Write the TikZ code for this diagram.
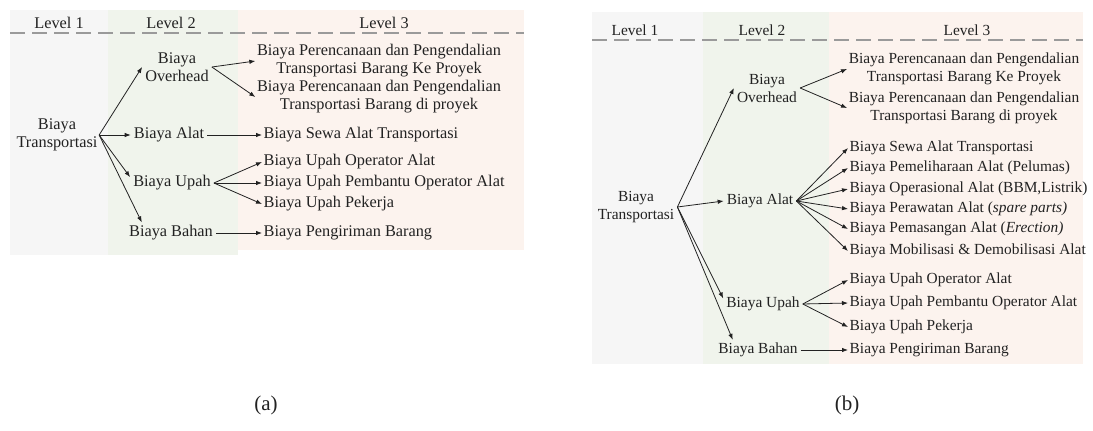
\documentclass[tikz,border=0pt]{standalone}
\usepackage{fontspec}
\setmainfont{Liberation Serif}
\usetikzlibrary{arrows.meta}
\definecolor{lvone}{HTML}{F6F6F6}
\definecolor{lvtwo}{HTML}{F0F4EC}
\definecolor{lvthree}{HTML}{FCF3EE}
\definecolor{ink}{HTML}{222222}
\definecolor{dashgray}{HTML}{9A9A9A}
\begin{document}
\begin{tikzpicture}[x=1pt,y=-1pt,
  txa/.style={font=\fontsize{16.3}{18}\selectfont, text=ink, inner sep=1.5pt},
  txb/.style={font=\fontsize{15.4}{18}\selectfont, text=ink, inner sep=1.5pt},
  midnode/.style={inner sep=3pt},
  arr/.style={draw=ink, line width=0.8pt, -{Latex[length=6pt,width=4.5pt]}},
  hdr/.style={dashgray, line width=2pt, dash pattern=on 15pt off 7pt}]
\useasboundingbox (0,0) rectangle (1093,431);
\fill[white] (0,0) rectangle (1093,431);

% ---------------- panel (a) ----------------
\fill[lvone] (10,10) rectangle (108,255);
\fill[lvtwo] (108,10) rectangle (238,255);
\fill[lvthree] (238,10) rectangle (524,250);
\node[txa] (ah1) at (59,23) {Level 1};
\node[txa] (ah2) at (171,23) {Level 2};
\node[txa] (ah3) at (384,23) {Level 3};
\draw[hdr] (10,33) -- (524,33);

\node[txa, align=center] (aT) at (57,135) {Biaya\\Transportasi};
\node[txa, align=center, midnode] (aO) at (177,67) {Biaya\\Overhead};
\node[txa, midnode] (aA) at (169,135) {Biaya Alat};
\node[txa, midnode] (aU) at (172,183) {Biaya Upah};
\node[txa, midnode] (aB) at (171,233) {Biaya Bahan};

\node[txa, align=center] (aP1) at (379,61) {Biaya Perencanaan dan Pengendalian\\Transportasi Barang Ke Proyek};
\node[txa, align=center] (aP2) at (379,97) {Biaya Perencanaan dan Pengendalian\\Transportasi Barang di proyek};
\node[txa, anchor=west] (aS) at (262,135) {Biaya Sewa Alat Transportasi};
\node[txa, anchor=west] (aU1) at (262,162) {Biaya Upah Operator Alat};
\node[txa, anchor=west] (aU2) at (262,183) {Biaya Upah Pembantu Operator Alat};
\node[txa, anchor=west] (aU3) at (262,204) {Biaya Upah Pekerja};
\node[txa, anchor=west] (aK) at (262,233) {Biaya Pengiriman Barang};

\draw[arr] (aT.east) -- (aO.west);
\draw[arr] (aT.east) -- (aA.west);
\draw[arr] (aT.east) -- (aU.172);
\draw[arr] (aT.east) -- (aB.160);
\draw[arr] (aO.east) -- (aP1.west);
\draw[arr] (aO.east) -- (aP2.west);
\draw[arr] (aA.east) -- (aS.west);
\draw[arr] (aU.east) -- (aU1.west);
\draw[arr] (aU.east) -- (aU2.west);
\draw[arr] (aU.east) -- (aU3.west);
\draw[arr] (aB.east) -- (aK.west);

% ---------------- panel (b) ----------------
\fill[lvone] (592,12) rectangle (703,364);
\fill[lvtwo] (703,12) rectangle (829,364);
\fill[lvthree] (829,12) rectangle (1083,364);
\node[txb] (bh1) at (635,30) {Level 1};
\node[txb] (bh2) at (762,30) {Level 2};
\node[txb] (bh3) at (967,30) {Level 3};
\draw[hdr] (592,40) -- (1083,40);

\node[txb, align=center, midnode] (bT) at (636,207) {Biaya\\Transportasi};
\node[txb, align=center, midnode] (bO) at (767,88) {Biaya\\Overhead};
\node[txb, midnode] (bA) at (760,201) {Biaya Alat};
\node[txb, midnode] (bU) at (763,304) {Biaya Upah};
\node[txb, midnode] (bB) at (758,350) {Biaya Bahan};

\node[txb, align=center] (bP1) at (964,69) {Biaya Perencanaan dan Pengendalian\\Transportasi Barang Ke Proyek};
\node[txb, align=center] (bP2) at (964,108) {Biaya Perencanaan dan Pengendalian\\Transportasi Barang di proyek};
\node[txb, anchor=west] (bA1) at (848,148) {Biaya Sewa Alat Transportasi};
\node[txb, anchor=west] (bA2) at (848,168) {Biaya Pemeliharaan Alat (Pelumas)};
\node[txb, anchor=west] (bA3) at (848,189) {Biaya Operasional Alat (BBM,Listrik)};
\node[txb, anchor=west] (bA4) at (848,209) {Biaya Perawatan Alat (\textit{spare parts)}};
\node[txb, anchor=west] (bA5) at (848,229) {Biaya Pemasangan Alat (\textit{Erection)}};
\node[txb, anchor=west] (bA6) at (848,251) {Biaya Mobilisasi \& Demobilisasi Alat};
\node[txb, anchor=west] (bU1) at (848,280) {Biaya Upah Operator Alat};
\node[txb, anchor=west] (bU2) at (848,303) {Biaya Upah Pembantu Operator Alat};
\node[txb, anchor=west] (bU3) at (848,327) {Biaya Upah Pekerja};
\node[txb, anchor=west] (bK) at (848,350) {Biaya Pengiriman Barang};

\draw[arr] (bT.east) -- (bO.west);
\draw[arr] (bT.east) -- (bA.west);
\draw[arr] (bT.east) -- (bU.172);
\draw[arr] (bT.east) -- (bB.158);
\draw[arr] (bO.east) -- (bP1.west);
\draw[arr] (bO.east) -- (bP2.west);
\foreach \n in {bA1,bA2,bA3,bA4,bA5,bA6}{\draw[arr] (bA.east) -- (\n.west);}
\foreach \n in {bU1,bU2,bU3}{\draw[arr] (bU.east) -- (\n.west);}
\draw[arr] (bB.east) -- (bK.west);

% captions
\node[font=\fontsize{21}{23}\selectfont, text=ink] (capa) at (266,405) {(a)};
\node[font=\fontsize{21}{23}\selectfont, text=ink] (capb) at (847,405) {(b)};
\end{tikzpicture}
\end{document}
